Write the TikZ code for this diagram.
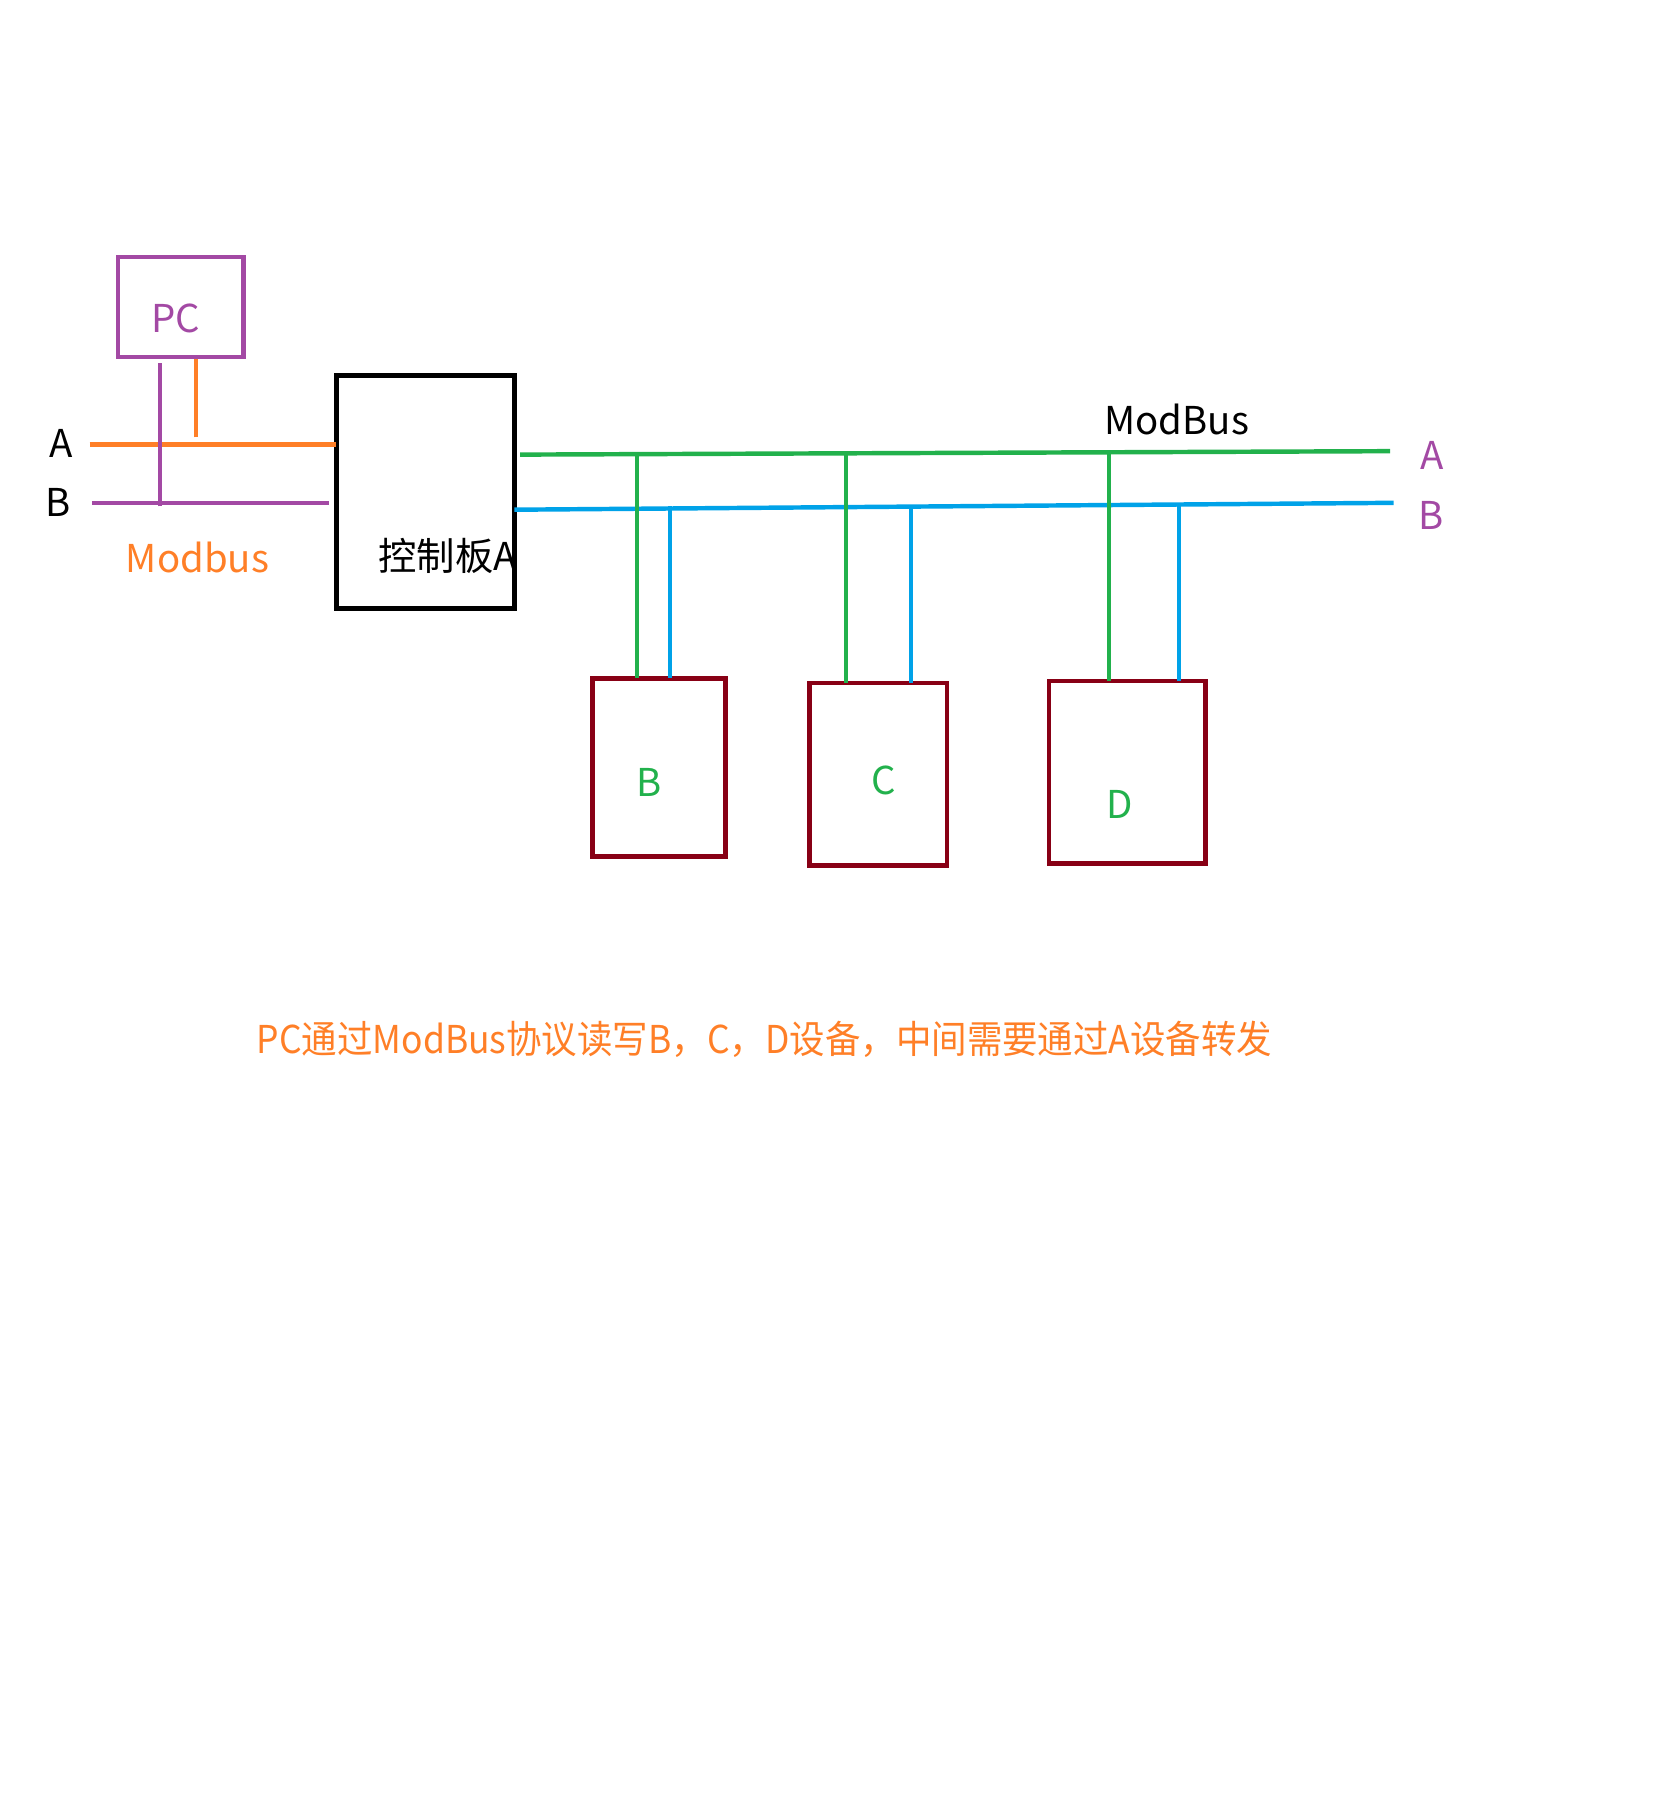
\documentclass[tikz,border=0pt]{standalone}
\usepackage{fontspec}
\setmainfont{Noto Sans CJK SC}
\usepackage{tikz}
\usetikzlibrary{positioning}

\definecolor{pcpurple}{HTML}{A349A4}
\definecolor{lineorange}{HTML}{FF7F27}
\definecolor{busgreen}{HTML}{22B14C}
\definecolor{busblue}{HTML}{00A2E8}
\definecolor{devred}{HTML}{880015}

\tikzset{
    box/.style={draw, line width=1.1pt, inner sep=0pt, outer sep=0pt, anchor=north west},
    lbl/.style={font=\fontsize{9.5}{11}\selectfont, inner sep=0pt},
    wire/.style={line width=1.1pt},
    drop/.style={line width=1pt}
}

\begin{document}
\begin{tikzpicture}[x=0.01cm,y=-0.01cm]
\useasboundingbox (0,0) rectangle (1460,1568);

% PC side
\node[box, pcpurple, minimum width=1.09cm, minimum height=0.87cm] (pc) at (103,224) {};
\node[lbl, pcpurple] (pclbl) at (153,277) {PC};
\node[box, line width=1.3pt, minimum width=1.55cm, minimum height=2.03cm] (ctrl) at (293,327) {};
\node[lbl, anchor=east] (ctrllbl) at (451,484) {控制板A};

\coordinate (pcA) at (78,387);
\coordinate (pcB) at (80,438);
\coordinate (pcAtap) at (171,381);
\coordinate (pcBtap) at (139,441);
\draw[wire, lineorange] (pcA) -- (pcA -| ctrl.west);
\draw[wire, pcpurple] (pcB) -- ([xshift=-0.06cm]pcB -| ctrl.west);
\draw[drop, lineorange] (pcAtap) -- ([yshift=-0.02cm]pcAtap |- pc.south);
\draw[drop, pcpurple] (pcBtap) -- ([yshift=-0.05cm]pcBtap |- pc.south);

\node[lbl, anchor=east] (la) at (64,386) {A};
\node[lbl, anchor=east] (lb) at (62,438) {B};
\node[lbl, lineorange] (mb) at (172,486) {Modbus};

% devices
\node[box, devred, minimum width=1.16cm, minimum height=1.55cm] (devB) at (516,591) {};
\node[box, devred, minimum width=1.20cm, minimum height=1.59cm] (devC) at (705,595) {};
\node[box, devred, minimum width=1.36cm, minimum height=1.59cm] (devD) at (914,593) {};
\node[lbl, busgreen] (lblB) at (565,682) {B};
\node[lbl, busgreen] (lblC) at (770,680) {C};
\node[lbl, busgreen] (lblD) at (975,701) {D};

% bus
\coordinate (busAL) at (453,396);
\coordinate (busBL) at (448,444);
\coordinate (busA) at (1211,393);
\coordinate (busB) at (1214,438);
\draw[wire, busgreen] (busAL) -- (busA);
\draw[wire, busblue] (busBL) -- (busB);

\foreach \dev/\ga/\gb in {devB/555/584, devC/737/794, devD/966/1027} {
    \draw[drop, busgreen] (\ga,395) -- (\ga,395 |- \dev.north);
    \draw[drop, busblue] (\gb,441) -- (\gb,441 |- \dev.north);
}

\node[lbl] (modbus) at (1025,365) {ModBus};
\node[lbl, pcpurple] (ra) at (1248,397) {A};
\node[lbl, pcpurple] (rb) at (1247,449) {B};

\node[lbl, lineorange, xscale=0.925] (note) at (666,905) {PC通过ModBus协议读写B，C，D设备，中间需要通过A设备转发};
\end{tikzpicture}
\end{document}
